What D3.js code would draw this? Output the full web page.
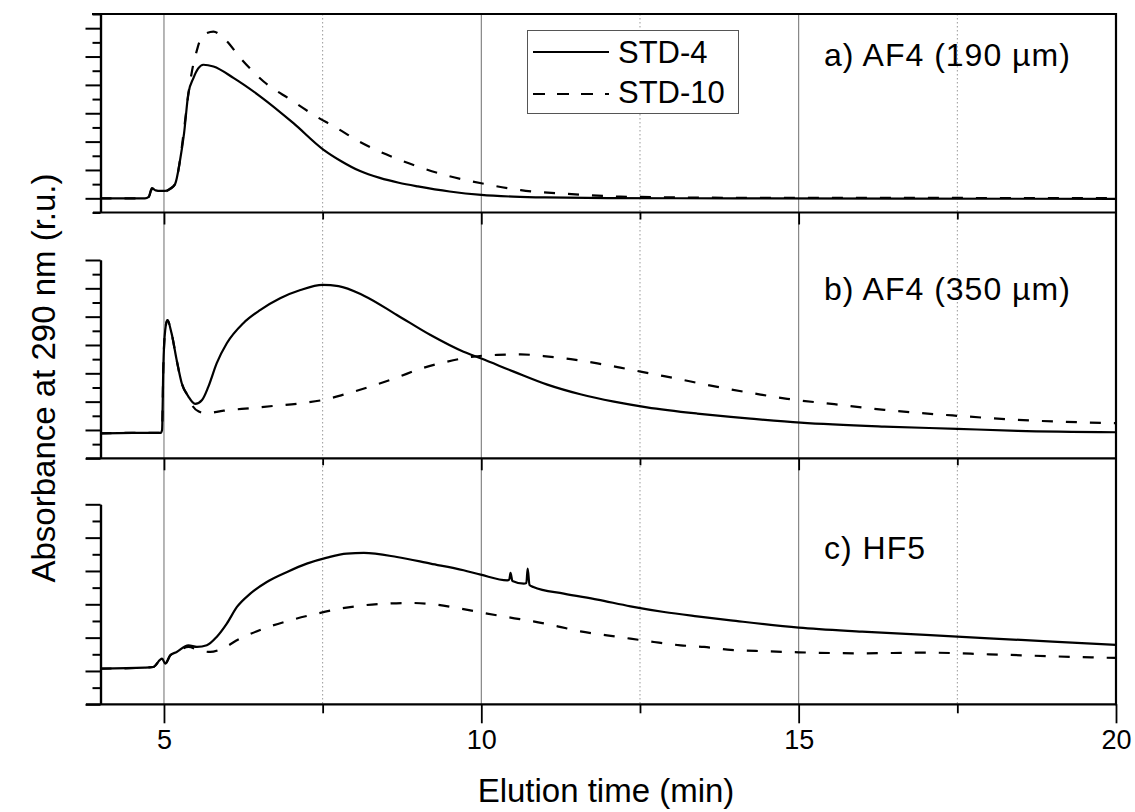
<!DOCTYPE html>
<html>
<head>
<meta charset="utf-8">
<script src="https://cdn.jsdelivr.net/npm/d3@7"></script>
<style>
  body { margin: 0; background: #fff; }
  svg { display: block; font-family: Arial, 'Liberation Sans', sans-serif; }
</style>
</head>
<body>
<svg width="1135" height="812"></svg>
<script>
// elution time (min) / absorbance (r.u.)
const xTicks = [5, 10, 15, 20]
const xMinor = [7.5, 12.5, 17.5]
const seriesNames = ['STD-4', 'STD-10']
const panelLabels = ['a) AF4 (190 µm)', 'b) AF4 (350 µm)', 'c) HF5']

const af4_190_std4 = [[4, 0], [4.7, 0], [4.76, 0.05], [4.81, 0.36], [4.87, 0.28], [4.94, 0.26], [5.02, 0.26], [5.1, 0.35],
  [5.175, 0.5], [5.254, 1.35], [5.317, 2.3], [5.385, 3.71], [5.464, 4.24], [5.543, 4.59], [5.62, 4.71], [5.78, 4.65],
  [6.1, 4.24], [6.52, 3.59], [7.04, 2.65], [7.51, 1.72], [7.8, 1.3], [8.09, 0.96], [8.4, 0.72], [8.7, 0.55], [9.0, 0.42],
  [9.5, 0.24], [10, 0.12], [10.5, 0.06], [11, 0.03], [12, 0.01], [14, 0], [20, -0.02]]
const af4_190_std10 = [[4, 0], [4.7, 0], [4.76, 0.05], [4.81, 0.33], [4.87, 0.27], [4.94, 0.25], [5.02, 0.25], [5.1, 0.33],
  [5.175, 0.5], [5.25, 1.3], [5.32, 2.5], [5.38, 3.6], [5.44, 4.47], [5.52, 5.23], [5.57, 5.59], [5.65, 5.8], [5.78, 5.88],
  [5.94, 5.65], [6.23, 4.88], [6.57, 4.12], [7.0, 3.47], [7.36, 2.94], [7.73, 2.47], [8.04, 2.05], [8.5, 1.55], [9.0, 1.12],
  [9.5, 0.78], [10, 0.53], [10.62, 0.29], [11.56, 0.13], [12.19, 0.06], [14, 0.02], [20, 0.01]]

const af4_350_std4 = [[4, -0.12], [4.5, -0.1], [4.95, -0.1], [4.97, 0], [4.99, 2.24], [5.02, 3.53], [5.054, 3.88], [5.12, 3.41],
  [5.2, 2.47], [5.28, 1.65], [5.385, 1.18], [5.49, 0.92], [5.6, 1.06], [5.7, 1.53], [5.83, 2.35], [5.99, 3.06], [6.25, 3.77],
  [6.52, 4.24], [6.83, 4.65], [7.15, 4.94], [7.5, 5.12], [7.75, 5.08], [8.15, 4.74], [8.67, 4.06], [9.2, 3.35], [9.72, 2.76],
  [10, 2.52], [10.51, 2.06], [11.04, 1.6], [11.56, 1.26], [12.09, 1.0], [12.61, 0.8], [13.4, 0.58], [13.93, 0.46],
  [14.24, 0.4], [15.03, 0.26], [16.35, 0.12], [17.5, 0.04], [18.45, -0.03], [20, -0.08]]
const af4_350_std10 = [[4, -0.12], [4.5, -0.1], [4.95, -0.1], [4.97, 0], [4.99, 2.24], [5.02, 3.53], [5.054, 3.88], [5.12, 3.41],
  [5.2, 2.47], [5.28, 1.65], [5.385, 1.18], [5.46, 0.82], [5.55, 0.65], [5.65, 0.59], [5.94, 0.68], [6.36, 0.77], [6.73, 0.85],
  [7.15, 0.94], [7.51, 1.06], [7.85, 1.26], [8.25, 1.53], [8.67, 1.85], [9.04, 2.16], [9.46, 2.41], [9.88, 2.59], [10.25, 2.65],
  [10.62, 2.67], [10.98, 2.61], [11.41, 2.5], [11.83, 2.35], [12.19, 2.2], [12.51, 2.06], [12.88, 1.9], [13.3, 1.71],
  [13.72, 1.52], [14.4, 1.25], [14.82, 1.1], [15.56, 0.91], [16.35, 0.71], [17.5, 0.5], [18.71, 0.33], [20, 0.24]]

const hf5_std4 = [[4, 0.07], [4.7, 0.1], [4.83, 0.12], [4.97, 0.37], [5.02, 0.22], [5.1, 0.47], [5.2, 0.57], [5.385, 0.77],
  [5.52, 0.72], [5.675, 0.77], [5.83, 1.02], [5.99, 1.42], [6.15, 1.92], [6.36, 2.32], [6.62, 2.67], [6.94, 2.97], [7.25, 3.22],
  [7.57, 3.4], [7.88, 3.52], [8.15, 3.54], [8.67, 3.42], [9.2, 3.22], [9.72, 3.02], [9.99, 2.89], [10.41, 2.72], [10.44, 2.74],
  [10.46, 2.94], [10.49, 2.7], [10.67, 2.62], [10.71, 2.64], [10.73, 3.07], [10.76, 2.58], [10.82, 2.52], [11.3, 2.32],
  [11.83, 2.14], [12.35, 1.94], [12.88, 1.77], [13.4, 1.64], [13.93, 1.52], [15, 1.3], [16, 1.18], [17, 1.08], [18, 0.98],
  [19, 0.88], [20, 0.78]]
const hf5_std10 = [[4, 0.07], [4.7, 0.1], [4.83, 0.12], [4.97, 0.37], [5.02, 0.22], [5.1, 0.47], [5.2, 0.57], [5.385, 0.72],
  [5.55, 0.62], [5.73, 0.57], [5.88, 0.64], [6.2, 0.97], [6.57, 1.27], [6.99, 1.52], [7.41, 1.72], [7.78, 1.87], [8.15, 1.97],
  [8.51, 2.02], [8.88, 2.04], [9.25, 2.0], [9.67, 1.87], [10.04, 1.74], [10.46, 1.6], [10.82, 1.49], [11.2, 1.34], [11.56, 1.19],
  [11.98, 1.07], [12.35, 0.97], [12.72, 0.87], [13.14, 0.77], [13.51, 0.72], [13.88, 0.64], [14.5, 0.59], [15, 0.56],
  [16, 0.53], [17, 0.55], [18, 0.5], [19, 0.44], [20, 0.39]]

const svg = d3.select('svg')
const font = "Arial, 'Liberation Sans', sans-serif"

const x = d3.scaleLinear().domain([4, 20]).range([100.5, 1116])

// one layer per panel, each with its own y axis (no labels)
const panels = [
  { label: panelLabels[0], std4: af4_190_std4, std10: af4_190_std10, dom: [-0.5, 6.5], rng: [212.5, 14], top: 14, lineLeft: 92, labelY: 66 },
  { label: panelLabels[1], std4: af4_350_std4, std10: af4_350_std10, dom: [-1, 6], rng: [458.3, 260], top: 212.5, lineLeft: 93, labelY: 300 },
  { label: panelLabels[2], std4: hf5_std4, std10: hf5_std10, dom: [-1, 5], rng: [704.3, 504.3], top: 458.3, lineLeft: 86, labelY: 559 }
]

const yTop = 14, yBottom = 704.3

// vertical grid
const grid = svg.append('g')
grid.selectAll('line.maj').data([5, 10, 15]).enter().append('line')
  .attr('x1', d => x(d)).attr('x2', d => x(d))
  .attr('y1', yTop).attr('y2', yBottom)
  .attr('stroke', '#7a7a7a').attr('stroke-width', 1.1)
grid.selectAll('line.min').data(xMinor).enter().append('line')
  .attr('x1', d => x(d)).attr('x2', d => x(d))
  .attr('y1', yTop).attr('y2', yBottom)
  .attr('stroke', '#999').attr('stroke-width', 1).attr('stroke-dasharray', '1.5,2.5')

const line = d3.line().curve(d3.curveMonotoneX)

panels.forEach(function (p, i) {
  const y = d3.scaleLinear().domain(p.dom).range(p.rng)
  const g = svg.append('g').attr('class', 'panel-' + i)
  line.x(d => x(d[0])).y(d => y(d[1]))

  g.append('path').attr('d', line(p.std10))
    .attr('fill', 'none').attr('stroke', '#000').attr('stroke-width', 2.2)
    .attr('stroke-dasharray', '11,13')
  g.append('path').attr('d', line(p.std4))
    .attr('fill', 'none').attr('stroke', '#000').attr('stroke-width', 2.2)

  // left axis: majors at integers, minors at halves
  const majors = d3.range(Math.ceil(p.dom[0]), p.dom[1] + 0.01, 1)
  const minors = d3.range(Math.ceil(p.dom[0] * 2) / 2, p.dom[1] + 0.01, 0.5).filter(v => v % 1 !== 0)
  const yAxis = g.append('g').attr('transform', 'translate(' + x.range()[0] + ',0)')
  yAxis.call(d3.axisLeft(y).tickValues(majors).tickSize(15).tickSizeOuter(0).tickFormat(''))
  yAxis.append('g').call(d3.axisLeft(y).tickValues(minors).tickSize(8).tickSizeOuter(0).tickFormat(''))
  yAxis.selectAll('path').attr('stroke', '#000').attr('stroke-width', 2.2)
  yAxis.selectAll('line').attr('stroke', '#000').attr('stroke-width', 2)

  // top frame line of the layer
  g.append('line')
    .attr('x1', p.lineLeft).attr('x2', x.range()[1])
    .attr('y1', p.top).attr('y2', p.top)
    .attr('stroke', '#000').attr('stroke-width', 2.2)

  // short ticks under the upper layers
  if (i < 2) {
    const yb = p.rng[0]
    const tk = g.append('g').attr('transform', 'translate(0,' + yb + ')')
    tk.call(d3.axisBottom(x).tickValues(xTicks.slice(0, 3)).tickSize(12).tickSizeOuter(0).tickFormat(''))
    tk.append('g').call(d3.axisBottom(x).tickValues(xMinor).tickSize(7).tickSizeOuter(0).tickFormat(''))
    tk.selectAll('path').remove()
    tk.selectAll('line').attr('stroke', '#000').attr('stroke-width', 1.8)
  }

  g.append('text')
    .attr('x', 824).attr('y', p.labelY)
    .attr('font-size', 32).attr('font-family', font)
    .attr('letter-spacing', 1)
    .text(p.label)
})

// bottom axis
const xAxis = svg.append('g').attr('transform', 'translate(0,' + yBottom + ')')
xAxis.call(d3.axisBottom(x).tickValues(xTicks).tickSize(19).tickPadding(7).tickSizeOuter(0).tickFormat(d3.format('d')))
xAxis.append('g').call(d3.axisBottom(x).tickValues(xMinor).tickSize(9).tickSizeOuter(0).tickFormat(''))
xAxis.selectAll('path').remove()
xAxis.selectAll('line').attr('stroke', '#000').attr('stroke-width', 1.8)
xAxis.selectAll('text').attr('font-size', 27).attr('font-family', font).attr('fill', '#000')

svg.append('line')
  .attr('x1', 86).attr('x2', x.range()[1])
  .attr('y1', yBottom).attr('y2', yBottom)
  .attr('stroke', '#000').attr('stroke-width', 2.2)

// right border
svg.append('line')
  .attr('x1', x.range()[1]).attr('x2', x.range()[1])
  .attr('y1', yTop - 1).attr('y2', yBottom + 1)
  .attr('stroke', '#000').attr('stroke-width', 2.2)

// titles
svg.append('text')
  .attr('x', 606).attr('y', 802)
  .attr('text-anchor', 'middle')
  .attr('font-size', 33).attr('font-family', font)
  .text('Elution time (min)')

svg.append('text')
  .attr('transform', 'translate(55,378) rotate(-90)')
  .attr('text-anchor', 'middle')
  .attr('font-size', 33).attr('font-family', font)
  .text('Absorbance at 290 nm (r.u.)')

// legend
const legend = svg.append('g')
legend.append('rect')
  .attr('x', 527.5).attr('y', 30.5).attr('width', 211).attr('height', 83)
  .attr('fill', '#fff').attr('stroke', '#555').attr('stroke-width', 1)
seriesNames.forEach(function (name, i) {
  const ly = 52 + i * 42
  legend.append('line')
    .attr('x1', 533).attr('x2', 609).attr('y1', ly).attr('y2', ly)
    .attr('stroke', '#000').attr('stroke-width', 2.2)
    .attr('stroke-dasharray', i === 1 ? '12,12' : null)
  legend.append('text')
    .attr('x', 618).attr('y', 63 + i * 40)
    .attr('font-size', 31).attr('font-family', font)
    .text(name)
})
</script>
</body>
</html>
